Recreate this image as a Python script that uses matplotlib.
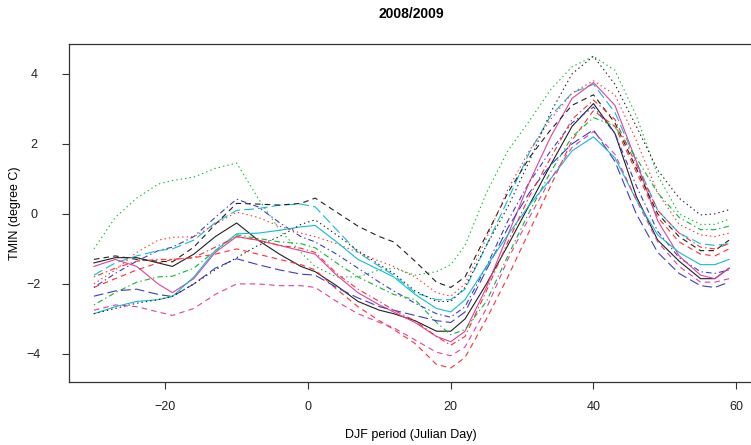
import numpy as np
import matplotlib
matplotlib.use("Agg")
import matplotlib.pyplot as plt

plt.rcParams['font.family'] = ['Liberation Sans', 'DejaVu Sans']
plt.rcParams['lines.scale_dashes'] = False

days = [-30, -27, -24, -21, -19, -16, -13, -10, -7, -4, -1, 1, 4, 7, 10, 12, 15,
        18, 20, 22, 25, 28, 31, 34, 37, 40, 43, 46, 49, 52, 55, 57, 59]

# columns in matplot order (col = 1:6, lty = 1:5)
black_solid = [-1.4, -1.25, -1.25, -1.4, -1.5, -1.15, -0.65, -0.26, -0.75, -1.15, -1.5, -1.65, -2.05, -2.5, -2.75, -2.85, -3.05,
               -3.35, -3.35, -3.0, -2.0, -0.9, 0.25, 1.4, 2.5, 3.15, 2.3, 0.5, -0.75, -1.35, -1.85, -1.85, -1.55]
red_dashed = [-2.1, -1.85, -1.6, -1.4, -1.3, -1.25, -1.15, -1.0, -1.15, -1.3, -1.45, -1.6, -2.15, -2.65, -3.05, -3.3, -3.7,
              -4.3, -4.4, -4.1, -3.0, -1.8, -0.5, 0.8, 2.1, 2.95, 2.5, 1.2, -0.1, -0.8, -1.15, -1.2, -1.0]
green_dotted = [-1.0, -0.1, 0.45, 0.85, 0.95, 1.05, 1.3, 1.45, 0.45, -0.45, -1.1, -1.5, -1.8, -1.8, -1.6, -1.55, -1.75,
                -1.65, -1.45, -0.9, 0.6, 1.8, 2.65, 3.55, 4.2, 4.5, 4.1, 2.8, 1.1, 0.0, -0.3, -0.3, -0.15]
blue_dotdash = [-2.1, -1.7, -1.35, -1.05, -0.95, -0.65, -0.1, 0.42, 0.2, -0.25, -0.65, -0.8, -1.15, -1.55, -1.95, -2.2, -2.55,
                -2.85, -2.95, -2.65, -1.5, -0.2, 0.9, 1.8, 2.6, 3.05, 2.3, 0.8, -0.5, -1.25, -1.65, -1.7, -1.6]
cyan_longdash = [-1.75, -1.4, -1.2, -1.05, -1.0, -0.75, -0.25, 0.1, 0.15, 0.25, 0.28, 0.2, -0.45, -1.1, -1.5, -1.75, -2.25,
                 -2.45, -2.45, -2.15, -0.9, 0.4, 1.75, 2.8, 3.45, 3.7, 2.9, 1.5, 0.1, -0.55, -0.85, -0.9, -0.85]
magenta_solid = [-1.5, -1.3, -1.5, -2.0, -2.25, -1.85, -1.1, -0.65, -0.75, -0.9, -1.05, -1.15, -1.75, -2.25, -2.6, -2.8, -3.1,
                 -3.5, -3.65, -3.35, -2.1, -0.6, 0.9, 2.2, 3.3, 3.75, 3.1, 1.5, -0.2, -1.2, -1.75, -1.85, -1.55]
black_dashed = [-1.3, -1.2, -1.3, -1.35, -1.37, -0.95, -0.3, 0.3, 0.28, 0.25, 0.3, 0.45, 0.05, -0.35, -0.65, -0.8, -1.35,
                -1.95, -2.1, -1.8, -0.6, 0.6, 1.6, 2.4, 3.1, 3.4, 2.6, 1.3, 0.0, -0.65, -1.05, -1.05, -0.75]
red_dotted = [-2.0, -1.6, -1.1, -0.75, -0.67, -0.65, -0.3, 0.05, -0.1, -0.35, -0.55, -0.65, -0.85, -1.1, -1.35, -1.5, -1.8,
              -2.25, -2.35, -2.0, -0.7, 0.7, 1.8, 2.7, 3.45, 3.8, 3.4, 2.1, 0.6, -0.3, -0.6, -0.65, -0.55]
green_dotdash = [-2.6, -2.25, -1.95, -1.8, -1.78, -1.55, -1.05, -0.6, -0.7, -0.8, -0.85, -0.97, -1.4, -1.8, -2.1, -2.3, -2.45,
                 -3.1, -3.45, -3.3, -2.5, -1.2, 0.05, 1.2, 2.2, 2.75, 2.5, 1.6, 0.6, -0.1, -0.45, -0.45, -0.35]
blue_longdash = [-2.35, -2.2, -2.15, -2.3, -2.36, -2.0, -1.55, -1.28, -1.45, -1.6, -1.72, -1.75, -2.1, -2.4, -2.65, -2.75, -2.9,
                 -3.05, -3.1, -2.8, -1.6, -0.4, 0.6, 1.4, 2.0, 2.4, 1.5, 0.0, -1.1, -1.7, -2.05, -2.1, -1.95]
cyan_solid = [-2.85, -2.65, -2.5, -2.45, -2.36, -1.8, -1.05, -0.57, -0.55, -0.47, -0.37, -0.33, -0.8, -1.3, -1.6, -1.8, -2.3,
              -2.7, -2.8, -2.45, -1.5, -0.6, 0.25, 1.0, 1.8, 2.2, 1.6, 0.4, -0.6, -1.1, -1.45, -1.45, -1.3]
magenta_dashed = [-2.75, -2.6, -2.65, -2.8, -2.9, -2.7, -2.3, -2.0, -2.0, -2.05, -2.05, -2.1, -2.5, -2.85, -3.1, -3.25, -3.6,
                  -3.95, -4.05, -3.8, -2.7, -1.3, -0.1, 1.0, 1.9, 2.35, 1.7, 0.4, -0.8, -1.5, -1.95, -1.95, -1.85]
black_dotted = [-2.85, -2.7, -2.55, -2.45, -2.35, -2.0, -1.6, -1.25, -0.9, -0.65, -0.3, -0.17, -0.6, -1.05, -1.45, -1.7, -2.2,
                -2.5, -2.5, -2.1, -0.9, 0.2, 1.5, 2.9, 4.0, 4.5, 3.7, 2.5, 1.25, 0.45, -0.03, 0.0, 0.12]
red_dotdash = [-1.8, -1.55, -1.35, -1.3, -1.3, -1.25, -0.95, -0.65, -0.75, -0.9, -0.98, -1.1, -1.7, -2.15, -2.5, -2.75, -3.05,
               -3.5, -3.75, -3.5, -2.2, -0.8, 0.5, 1.6, 2.7, 3.25, 2.7, 1.4, 0.1, -0.55, -0.95, -1.0, -0.85]

columns = [black_solid, red_dashed, green_dotted, blue_dotdash, cyan_longdash, magenta_solid,
           black_dashed, red_dotted, green_dotdash, blue_longdash, cyan_solid, magenta_dashed,
           black_dotted, red_dotdash]

palette = ['#202020', '#ff3030', '#10b830', '#3c3cc8', '#10bcd8', '#e2409e']
ltys = ['-', (0, (4, 3)), (0, (1, 2.2)), (0, (1, 2.2, 4, 2.2)), (0, (7, 3))]

fig = plt.figure(figsize=(7.51, 4.45), dpi=100)
ax = fig.add_axes([68.5 / 751, 63 / 445, 686 / 751, 338 / 445])

for i, col in enumerate(columns):
    ax.plot(days, col, color=palette[i % 6], linestyle=ltys[i % 5], linewidth=0.8)

ax.set_xlim(-33.56, 62.56)
ax.set_ylim(-4.8, 4.85)
ax.set_xticks([-20, 0, 20, 40, 60])
ax.set_yticks([-4, -2, 0, 2, 4])
for s in ax.spines.values():
    s.set_color('#333333')
    s.set_linewidth(0.9)
ax.tick_params(length=5, width=0.8, color='#333333', labelsize=9, labelcolor='#222222')
ax.tick_params(axis='x', pad=9)
ax.tick_params(axis='y', pad=20)
for lab in ax.get_yticklabels():
    lab.set_ha('center')

fig.text(411 / 751, 1 - 14 / 445, '2008/2009', ha='center', va='center',
         fontsize=10, fontweight='bold')
fig.text(411 / 751, 1 - 435 / 445, 'DJF period (Julian Day)', ha='center', va='center', fontsize=9)
fig.text(15 / 751, 1 - 213 / 445, 'TMIN (degree C)', ha='center', va='center', rotation=90, fontsize=9)

fig.savefig('out.png', dpi=100)
